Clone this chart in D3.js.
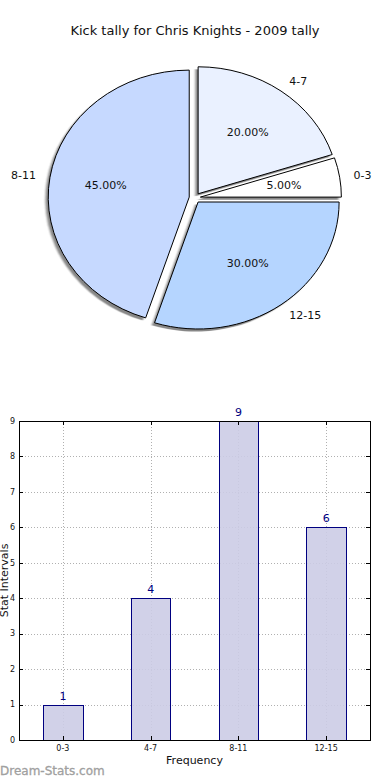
<!DOCTYPE html>
<html lang="en">
<head>
	<meta charset="UTF-8">
	<title>Kick tally</title>
	<script src="https://cdn.jsdelivr.net/npm/d3@7"></script>
	<style>
		body { margin: 0; background: #fff; }
		text { font-family: "DejaVu Sans", sans-serif; }
	</style>
</head>
<body>
	<div id="container"></div>
	<script>
		// data
		var categories = ["0-3", "4-7", "8-11", "12-15"];
		var tally = [1, 4, 9, 6];
		var sliceColors = ["#ffffff", "#eaf1ff", "#c6d9ff", "#b5d5ff"];
		var yTicks = [0, 1, 2, 3, 4, 5, 6, 7, 8, 9];

		var width = 390, height = 780;
		var svg = d3.select("#container").append("svg")
				.attr("width", width)
				.attr("height", height);

		svg.append("text")
			.attr("x", 195).attr("y", 35)
			.attr("text-anchor", "middle")
			.attr("font-size", 13)
			.attr("fill", "#111")
			.text("Kick tally for Chris Knights - 2009 tally");

		// ---- pie (matplotlib style: starts at 3 o'clock, counterclockwise) ----
		var cx = 194.8, cy = 197.9, rx = 141, ry = 127;
		var explode = 0.04;
		var total = d3.sum(tally);

		var defs = svg.append("defs");
		defs.append("filter").attr("id", "blur")
			.append("feGaussianBlur").attr("stdDeviation", 0.8);

		var pie = d3.pie().sort(null)
				.startAngle(Math.PI / 2)
				.endAngle(Math.PI / 2 - 2 * Math.PI);
		var arcs = pie(tally);
		var arc = d3.arc().innerRadius(0).outerRadius(rx);

		var pieG = svg.append("g")
				.attr("transform", "translate(" + cx + "," + cy + ") scale(1," + (ry / rx) + ")");

		function mid(d) { return (d.startAngle + d.endAngle) / 2; }

		// shadows first
		pieG.selectAll(".shadow").data(arcs)
			.enter().append("path")
				.attr("class", "shadow")
				.attr("d", arc)
				.attr("transform", d => {
					var a = mid(d);
					return "translate(" + (explode * rx * Math.sin(a) - 0.02 * rx) + "," + (-explode * rx * Math.cos(a) + 0.02 * rx) + ")";
				})
				.attr("fill", "#555")
				.attr("opacity", 0.7)
				.attr("filter", "url(#blur)");

		pieG.selectAll(".slice").data(arcs)
			.enter().append("path")
				.attr("class", "slice")
				.attr("d", arc)
				.attr("transform", d => {
					var a = mid(d);
					return "translate(" + (explode * rx * Math.sin(a)) + "," + (-explode * rx * Math.cos(a)) + ")";
				})
				.attr("fill", (d, i) => sliceColors[i])
				.attr("stroke", "#000")
				.attr("stroke-width", 1)
				.attr("vector-effect", "non-scaling-stroke");

		var labelG = svg.append("g").attr("transform", "translate(" + cx + "," + cy + ")");
		labelG.selectAll(".plabel").data(arcs)
			.enter().append("text")
				.attr("x", d => (explode + 1.1) * rx * Math.sin(mid(d)))
				.attr("y", d => -(explode + 1.1) * ry * Math.cos(mid(d)))
				.attr("dy", "0.35em")
				.attr("text-anchor", d => Math.sin(mid(d)) > 0 ? "start" : "end")
				.attr("font-size", 11)
				.attr("fill", "#111")
				.text((d, i) => categories[i]);

		labelG.selectAll(".pct").data(arcs)
			.enter().append("text")
				.attr("x", d => (explode + 0.6) * rx * Math.sin(mid(d)))
				.attr("y", d => -(explode + 0.6) * ry * Math.cos(mid(d)))
				.attr("dy", "0.35em")
				.attr("text-anchor", "middle")
				.attr("font-size", 11)
				.attr("fill", "#111")
				.text(d => (d.value / total * 100).toFixed(2) + "%");

		// ---- bar chart ----
		var axL = 19, axR = 370, axT = 421, axB = 740;
		var x = d3.scaleLinear().domain([-0.5, categories.length - 0.5]).range([axL, axR]);
		var y = d3.scaleLinear().domain([0, 9]).range([axB, axT]);
		var barW = 0.45;

		var grid = svg.append("g").attr("stroke", "#b0b0b0").attr("stroke-width", 1)
				.attr("stroke-dasharray", "1,2");
		grid.selectAll(".hg").data(yTicks.slice(1, -1))
			.enter().append("line")
				.attr("x1", axL).attr("x2", axR)
				.attr("y1", d => Math.round(y(d)) + 0.5).attr("y2", d => Math.round(y(d)) + 0.5);
		grid.selectAll(".vg").data(categories)
			.enter().append("line")
				.attr("x1", (d, i) => Math.round(x(i)) + 0.5).attr("x2", (d, i) => Math.round(x(i)) + 0.5)
				.attr("y1", axT).attr("y2", axB);

		svg.selectAll(".bar").data(tally)
			.enter().append("rect")
				.attr("class", "bar")
				.attr("x", (d, i) => Math.round(x(i - barW / 2)) + 0.5)
				.attr("y", d => Math.round(y(d)) + 0.5)
				.attr("width", (d, i) => Math.round(x(i + barW / 2)) - Math.round(x(i - barW / 2)))
				.attr("height", d => Math.round(y(0)) - Math.round(y(d)))
				.attr("fill", "#cccce5")
				.attr("fill-opacity", 0.9)
				.attr("stroke", "#000080")
				.attr("stroke-width", 1);

		svg.selectAll(".val").data(tally)
			.enter().append("text")
				.attr("x", (d, i) => x(i))
				.attr("y", d => y(d) - 5)
				.attr("text-anchor", "middle")
				.attr("font-size", 11)
				.attr("fill", "#000080")
				.text(d => d);

		// ticks (inward, both sides)
		var tk = svg.append("g").attr("stroke", "#000").attr("stroke-width", 1);
		yTicks.forEach(t => {
			var yy = Math.round(y(t)) + 0.5;
			tk.append("line").attr("x1", axL).attr("x2", axL + 4).attr("y1", yy).attr("y2", yy);
			tk.append("line").attr("x1", axR - 4).attr("x2", axR).attr("y1", yy).attr("y2", yy);
		});
		categories.forEach((c, i) => {
			var xx = Math.round(x(i)) + 0.5;
			tk.append("line").attr("x1", xx).attr("x2", xx).attr("y1", axB).attr("y2", axB - 4);
			tk.append("line").attr("x1", xx).attr("x2", xx).attr("y1", axT).attr("y2", axT + 4);
		});

		svg.append("rect")
			.attr("x", axL + 0.5).attr("y", axT + 0.5)
			.attr("width", axR - axL).attr("height", axB - axT)
			.attr("fill", "none").attr("stroke", "#000").attr("stroke-width", 1);

		svg.selectAll(".ytl").data(yTicks)
			.enter().append("text")
				.attr("x", axL - 4)
				.attr("y", d => y(d))
				.attr("dy", "0.35em")
				.attr("text-anchor", "end")
				.attr("font-size", 8)
				.attr("fill", "#111")
				.text(d => d);

		svg.selectAll(".xtl").data(categories)
			.enter().append("text")
				.attr("x", (d, i) => x(i))
				.attr("y", axB + 11)
				.attr("text-anchor", "middle")
				.attr("font-size", 8)
				.attr("fill", "#111")
				.text(d => d);

		svg.append("text")
			.attr("x", (axL + axR) / 2).attr("y", 764)
			.attr("text-anchor", "middle")
			.attr("font-size", 11)
			.attr("fill", "#111")
			.text("Frequency");

		svg.append("text")
			.attr("transform", "translate(8," + ((axT + axB) / 2) + ") rotate(-90)")
			.attr("text-anchor", "middle")
			.attr("font-size", 11)
			.attr("fill", "#111")
			.text("Stat Intervals");

		svg.append("text")
			.attr("x", 0).attr("y", 775)
			.attr("font-size", 12)
			.attr("fill", "#a0a0a0")
			.attr("stroke", "#a0a0a0")
			.attr("stroke-width", 0.3)
			.text("Dream-Stats.com");
	</script>
</body>
</html>
